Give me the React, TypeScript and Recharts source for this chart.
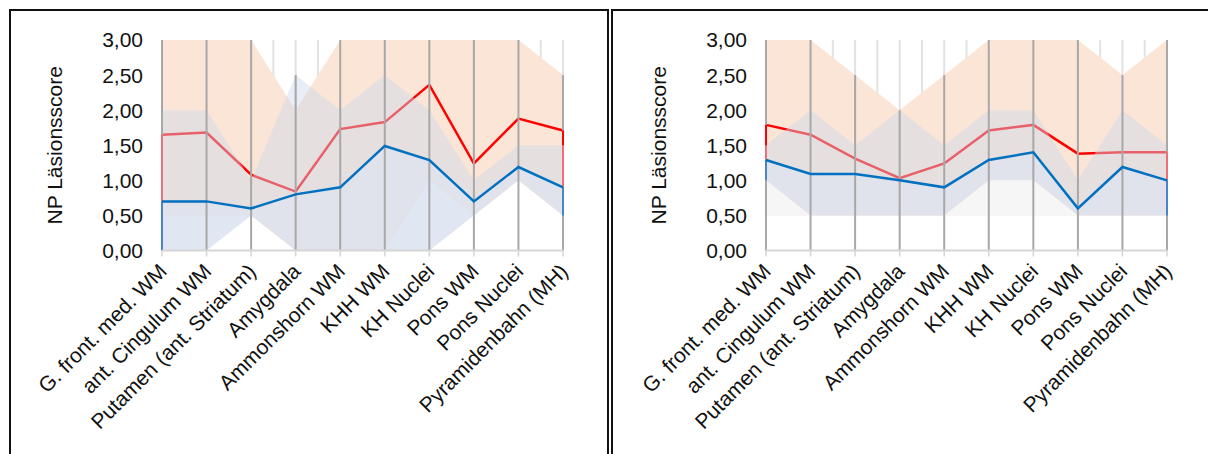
import React from "react";
import {
  ComposedChart,
  Area,
  Line,
  XAxis,
  YAxis,
  CartesianGrid,
  ReferenceLine,
  Label,
} from "recharts";

const categories = [
  "G. front. med. WM",
  "ant. Cingulum WM",
  "Putamen (ant. Striatum)",
  "Amygdala",
  "Ammonshorn WM",
  "KHH WM",
  "KH Nuclei",
  "Pons WM",
  "Pons Nuclei",
  "Pyramidenbahn (MH)",
];

const yTicks = [0, 0.5, 1, 1.5, 2, 2.5, 3];

// left panel
const leftRedMean = [1.65, 1.68, 1.08, 0.84, 1.73, 1.83, 2.36, 1.24, 1.88, 1.71];
const leftBlueMean = [0.7, 0.7, 0.6, 0.8, 0.9, 1.49, 1.29, 0.7, 1.19, 0.9];
const leftRedMin = [0.5, 0.5, 0.5, 0, 0, 0, 1, 0.5, 1, 0.5];
const leftRedMax = [3, 3, 3, 2, 3, 3, 3, 3, 3, 2.5];
const leftBlueMin = [0, 0, 0.5, 0, 0, 0, 0, 0.5, 1, 0.5];
const leftBlueMax = [2, 2, 1, 2.5, 2, 2.5, 2, 1, 1.5, 1.5];

// right panel
const rightRedMean = [1.79, 1.65, 1.31, 1.03, 1.24, 1.71, 1.79, 1.38, 1.4, 1.4];
const rightBlueMean = [1.29, 1.09, 1.09, 1.0, 0.9, 1.29, 1.4, 0.6, 1.19, 1.0];
const rightRedMin = [0.5, 0.5, 0.5, 0.5, 0.5, 0.5, 0.5, 0.5, 0.5, 0.5];
const rightRedMax = [3, 3, 2.5, 2, 2.5, 3, 3, 3, 2.5, 3];
const rightBlueMin = [1, 0.5, 0.5, 0.5, 0.5, 1, 1, 0.5, 0.5, 0.5];
const rightBlueMax = [1.5, 2, 1.5, 2, 1.5, 2, 2, 1, 2, 1.5];

const FONT = "Liberation Sans, Arial, sans-serif";
const TEXT = "#111";
const FS = 21;

const fmt = (v: number) => v.toFixed(2).replace(".", ",");

function CategoryTick(props: any) {
  const { x, y, payload } = props;
  const ax = x + 1;
  const ay = y + 11;
  return (
    <text
      x={ax}
      y={ay}
      dy="0.35em"
      textAnchor="end"
      transform={`rotate(-45 ${ax} ${ay})`}
      fontSize={FS}
      fill={TEXT}
      fontFamily={FONT}
    >
      {payload.value}
    </text>
  );
}

type PanelProps = {
  redMean: number[];
  blueMean: number[];
  redMin: number[];
  redMax: number[];
  blueMin: number[];
  blueMax: number[];
};

function Panel({ redMean, blueMean, redMin, redMax, blueMin, blueMax }: PanelProps) {
  const rows = categories.map((name, i) => ({
    name,
    redMean: redMean[i],
    blueMean: blueMean[i],
    redMin: redMin[i],
    redMax: redMax[i],
    blueMin: blueMin[i],
    blueMax: blueMax[i],
  }));
  const ends = [rows[0], rows[rows.length - 1]];
  const n = categories.length;

  return (
    <ComposedChart
      width={604}
      height={454}
      data={rows}
      margin={{ top: 40, right: 41, bottom: 13.5, left: 40 }}
    >
      <CartesianGrid
        horizontal={false}
        stroke="#e2e2e2"
        strokeWidth={2}
        verticalCoordinatesGenerator={({ offset }: any) => {
          const step = offset.width / (2 * (n - 1));
          const xs: number[] = [];
          for (let k = 0; k <= 2 * (n - 1); k++) xs.push(offset.left + k * step);
          return xs;
        }}
      />
      <XAxis
        dataKey="name"
        scale="point"
        padding={{ left: 0, right: 0 }}
        interval={0}
        height={190}
        tickSize={6}
        tickMargin={0}
        axisLine={{ stroke: "#d6d6d6", strokeWidth: 2 }}
        tickLine={{ stroke: "#d6d6d6", strokeWidth: 1.5 }}
        tick={<CategoryTick />}
      />
      <YAxis
        domain={[0, 3]}
        ticks={yTicks}
        tickFormatter={fmt}
        axisLine={false}
        tickLine={false}
        tickSize={0}
        tickMargin={19}
        width={122}
        tick={{ fontSize: FS, fill: TEXT, fontFamily: FONT }}
      >
        <Label
          value="NP Läsionsscore"
          angle={-90}
          position="insideLeft"
          offset={15}
          fontSize={FS}
          fill={TEXT}
          fontFamily={FONT}
          style={{ textAnchor: "middle" }}
        />
      </YAxis>

      {/* red group range: max area, then white below the min */}
      <Area dataKey="redMax" fill="#fbe5d6" fillOpacity={1} stroke="none" isAnimationActive={false} />
      <Area dataKey="redMin" fill="#ffffff" fillOpacity={1} stroke="none" isAnimationActive={false} />
      <Area dataKey="redMean" fill="none" stroke="#ff0000" strokeWidth={2.5} isAnimationActive={false} />

      {/* blue group range, split at the mean */}
      <Area
        dataKey={(d: any) => [d.blueMean, d.blueMax]}
        fill="rgb(205,215,235)"
        fillOpacity={0.45}
        stroke="none"
        isAnimationActive={false}
      />
      <Area
        dataKey={(d: any) => [d.blueMin, d.blueMean]}
        fill="rgb(218,226,240)"
        fillOpacity={0.85}
        stroke="none"
        isAnimationActive={false}
      />
      {/* red range lying below the blue minimum is washed out */}
      <Area
        dataKey={(d: any) => [Math.min(d.redMin, d.blueMin), d.blueMin]}
        fill="#f6f7fa"
        fillOpacity={0.9}
        stroke="none"
        isAnimationActive={false}
      />

      {/* drop lines */}
      {rows.map((r) => (
        <ReferenceLine
          key={`drop-${r.name}`}
          segment={[
            { x: r.name, y: 0 },
            { x: r.name, y: Math.max(r.redMax, r.blueMax) },
          ]}
          stroke="#a8a8a8"
          strokeWidth={2}
        />
      ))}

      {/* area edges at both ends: red part above blue band is pure red */}
      {ends.map((r) => (
        <ReferenceLine
          key={`red-edge-${r.name}`}
          segment={[
            { x: r.name, y: r.blueMean },
            { x: r.name, y: Math.min(r.redMean, r.blueMax) },
          ]}
          stroke="#ee6f77"
          strokeWidth={2}
        />
      ))}
      {ends
        .filter((r) => r.redMean > r.blueMax)
        .map((r) => (
          <ReferenceLine
            key={`red-top-${r.name}`}
            segment={[
              { x: r.name, y: r.blueMax },
              { x: r.name, y: r.redMean },
            ]}
            stroke="#ff0000"
            strokeWidth={2}
          />
        ))}
      {ends.map((r) => (
        <ReferenceLine
          key={`blue-edge-${r.name}`}
          segment={[
            { x: r.name, y: r.blueMin },
            { x: r.name, y: r.blueMean },
          ]}
          stroke="#4a86c5"
          strokeWidth={2}
        />
      ))}

      <Line
        dataKey="blueMean"
        stroke="#0070c0"
        strokeWidth={2.5}
        dot={false}
        isAnimationActive={false}
      />
    </ComposedChart>
  );
}

export default function App() {
  return (
    <div
      style={{
        position: "absolute",
        left: 0,
        top: 0,
        width: 1208,
        height: 454,
        overflow: "hidden",
        background: "#fff",
      }}
    >
      <div
        style={{
          position: "absolute",
          left: 9,
          top: 9,
          width: 596,
          height: 470,
          border: "2px solid #111",
        }}
      />
      <div
        style={{
          position: "absolute",
          left: 611,
          top: 9,
          width: 600,
          height: 470,
          border: "2px solid #111",
        }}
      />
      <div style={{ position: "absolute", left: 0, top: 0 }}>
        <Panel
          redMean={leftRedMean}
          blueMean={leftBlueMean}
          redMin={leftRedMin}
          redMax={leftRedMax}
          blueMin={leftBlueMin}
          blueMax={leftBlueMax}
        />
      </div>
      <div style={{ position: "absolute", left: 604, top: 0 }}>
        <Panel
          redMean={rightRedMean}
          blueMean={rightBlueMean}
          redMin={rightRedMin}
          redMax={rightRedMax}
          blueMin={rightBlueMin}
          blueMax={rightBlueMax}
        />
      </div>
    </div>
  );
}
